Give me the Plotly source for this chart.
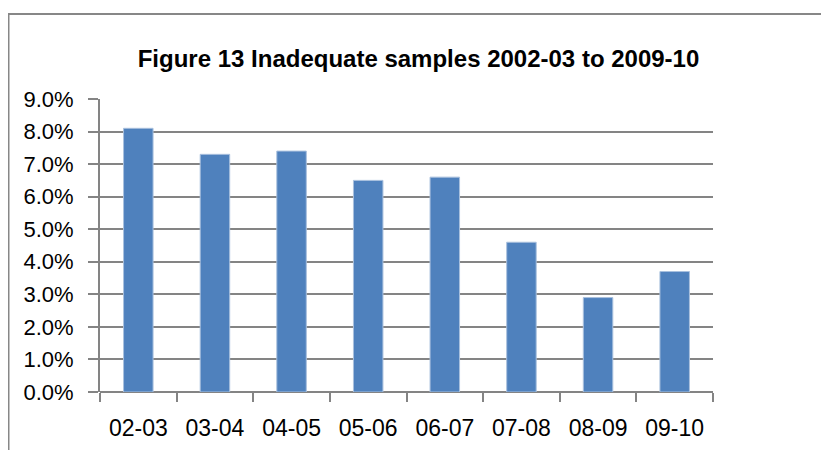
import plotly.graph_objects as go

categories = ["02-03", "03-04", "04-05", "05-06", "06-07", "07-08", "08-09", "09-10"]
inadequate_rate = [0.081, 0.073, 0.074, 0.065, 0.066, 0.046, 0.029, 0.037]
y_ticks = [0.0, 0.01, 0.02, 0.03, 0.04, 0.05, 0.06, 0.07, 0.08, 0.09]

GRID = "#848484"
FONT = "Liberation Sans"

fig = go.Figure()
fig.add_trace(go.Bar(
    x=categories, y=inadequate_rate,
    marker=dict(color="#4F81BD", line=dict(color="#A9C0DE", width=1)),
))

# figure is placed at an 8px page offset by the browser body margin
W, H = 821, 442
L, R, T, B = 92, 116, 91, 58
pw, ph = W - L - R, H - T - B

def px_x(p):
    return (p - L) / pw

def px_y(p):
    return (H - B - p) / ph

fig.update_layout(
    width=W, height=H,
    margin=dict(l=L, r=R, t=T, b=B, autoexpand=False),
    paper_bgcolor="white", plot_bgcolor="white",
    showlegend=False,
    bargap=0.615,
    title=dict(
        text="<b>Figure 13 Inadequate samples 2002-03 to 2009-10</b>",
        x=0.5, xanchor="center", y=1 - 50.5 / H, yanchor="middle",
        font=dict(family=FONT, size=24, color="black"),
    ),
    xaxis=dict(
        type="category",
        showline=False,
        showgrid=False,
        ticks="outside", tickson="boundaries", ticklen=9, tickwidth=2, tickcolor=GRID,
        tickfont=dict(family=FONT, size=23, color="black"),
        ticklabelstandoff=20,
        automargin=False,
    ),
    yaxis=dict(
        range=[0, 0.09],
        tickvals=y_ticks,
        tickformat=".1%",
        showgrid=True, gridcolor=GRID, gridwidth=2,
        showline=True, linecolor=GRID, linewidth=2,
        zeroline=True, zerolinecolor=GRID, zerolinewidth=2,
        ticks="outside", ticklen=10, tickwidth=2, tickcolor=GRID,
        tickfont=dict(family=FONT, size=22, color="black"),
        ticklabelstandoff=10,
        automargin=False,
    ),
    shapes=[
        dict(type="rect", xref="paper", yref="paper",
             x0=px_x(0.5), x1=px_x(W + 20), y0=px_y(H + 20), y1=px_y(6),
             line=dict(color="#878787", width=2), fillcolor="rgba(0,0,0,0)", layer="below"),
    ],
)

fig.write_html("out.html")
